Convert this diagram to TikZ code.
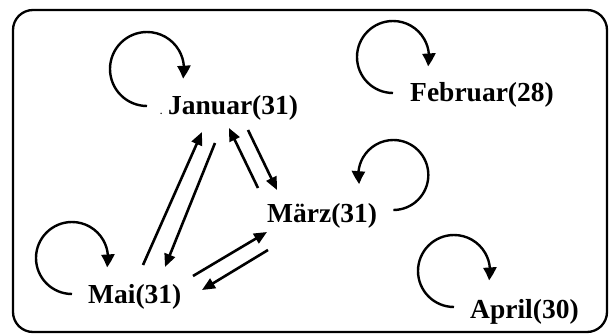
\documentclass[tikz,border=0pt]{standalone}
\usepackage{fontspec}
\setmainfont{Liberation Serif}
\usetikzlibrary{arrows.meta,bending}
\newcommand{\tinydot}{\makebox[8pt][l]{\fontsize{9}{9}\selectfont.}}
\begin{document}
\begin{tikzpicture}[x=1pt,y=1pt,
  lbl/.style={inner sep=0pt,anchor=base west,font=\fontsize{27.5}{30}\selectfont\bfseries},
  arr/.style={line width=2.6pt,-{Triangle[length=13pt,width=11pt]}},
  loop/.style={line width=2.4pt,-{Triangle[length=13pt,width=13pt,bend]}},
  frame/.style={line width=2.3pt,rounded corners=20pt}]
\useasboundingbox (0,0) rectangle (614,-334);
\draw[frame] (13,-10) rectangle (607,-332);
\node[lbl] (jan) at (160,-115) {\tinydot Januar(31)};
\node[lbl] (feb) at (410,-102) {Februar(28)};
\node[lbl] (mar) at (267,-223) {März(31)};
\node[lbl] (mai) at (88,-303) {Mai(31)};
\node[lbl] (apr) at (470,-319) {April(30)};
% self loops
\draw[loop] ([xshift=-13pt,yshift=9pt]jan.base west) arc[start angle=-90,end angle=-375,radius=37];
\draw[loop] ([xshift=-17pt,yshift=9pt]feb.base west) arc[start angle=-90,end angle=-375,radius=36];
\draw[loop] ([xshift=-16pt,yshift=9pt]mai.base west) arc[start angle=-90,end angle=-375,radius=36];
\draw[loop] ([xshift=-16pt,yshift=12pt]apr.base west) arc[start angle=-90,end angle=-375,radius=36];
\draw[loop] ([xshift=16pt,yshift=13pt]mar.base east) arc[start angle=-90,end angle=195,radius=35];
% connectors
\draw[arr] ([xshift=55pt,yshift=38pt]mai.base west) -- ([xshift=42pt,yshift=-17pt]jan.base west);
\draw[arr] ([xshift=55pt,yshift=-28pt]jan.base west) -- ([xshift=77pt,yshift=36pt]mai.base west);
\draw[arr] ([xshift=-9pt,yshift=35pt]mar.base west) -- ([xshift=69pt,yshift=-13pt]jan.base west);
\draw[arr] ([xshift=88pt,yshift=-15pt]jan.base west) -- ([xshift=10pt,yshift=33pt]mar.base west);
\draw[arr] ([xshift=105pt,yshift=27pt]mai.base west) -- ([xshift=0pt,yshift=-9pt]mar.base west);
\draw[arr] ([xshift=1pt,yshift=-27pt]mar.base west) -- ([xshift=114pt,yshift=13pt]mai.base west);
\end{tikzpicture}
\end{document}
